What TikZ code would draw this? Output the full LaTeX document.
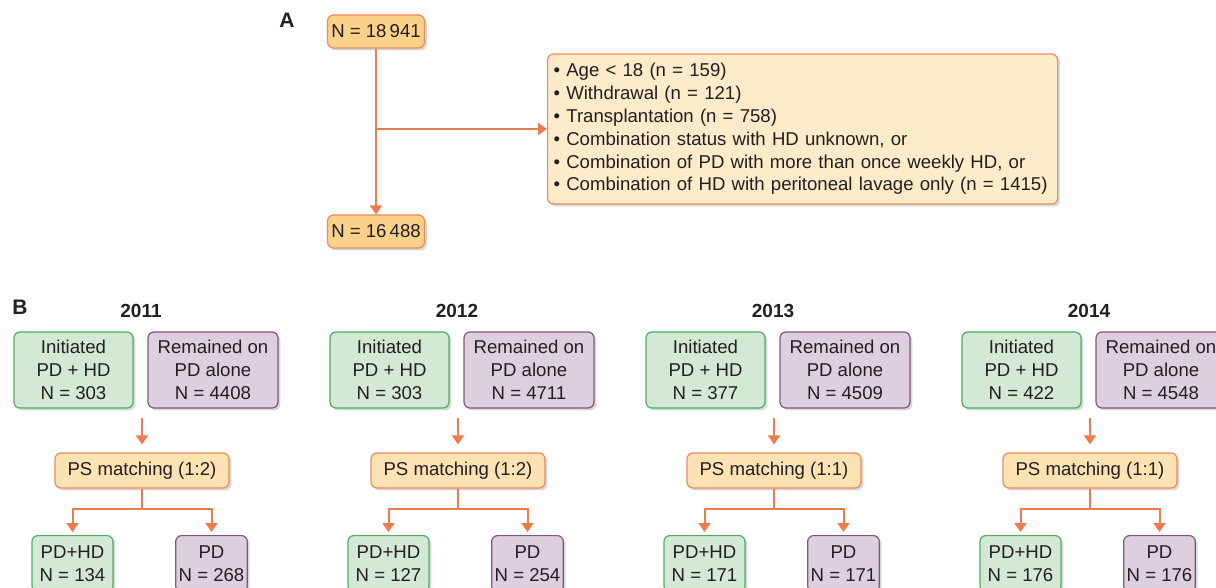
\documentclass[tikz,border=0pt]{standalone}
\usepackage{fontspec}
\setmainfont{Liberation Sans}
\usetikzlibrary{positioning, shadows, arrows.meta}

\definecolor{inkgray}{HTML}{231F20}
\definecolor{orangeline}{HTML}{F08A5D}
\definecolor{arrowcol}{HTML}{EE7B4D}
\definecolor{cohortfill}{HTML}{FCD28A}
\definecolor{exclfill}{HTML}{FDEBC9}
\definecolor{psfill}{HTML}{FDE2B4}
\definecolor{greenfill}{HTML}{D3E8D5}
\definecolor{greenline}{HTML}{4DAE62}
\definecolor{purplefill}{HTML}{DCD0DF}
\definecolor{purpleline}{HTML}{85557F}

\begin{document}
\begin{tikzpicture}[
x=0.5pt, y=-0.5pt,
font=\fontsize{9.3}{11.4}\selectfont,
text=inkgray,
box/.style={rectangle, draw, rounded corners=3pt, line width=0.6pt, align=center, inner sep=1.5pt,
  drop shadow={shadow xshift=1.2pt, shadow yshift=-1.2pt, opacity=0.25, fill=black!60}},
cohort/.style={box, fill=cohortfill, draw=orangeline, minimum width=48.5pt, minimum height=16.5pt},
exclusion/.style={box, fill=exclfill, draw=orangeline, text width=249pt, align=left, inner xsep=3pt, minimum height=75pt},
combo/.style={box, fill=greenfill, draw=greenline, minimum width=59.5pt, minimum height=38pt},
alone/.style={box, fill=purplefill, draw=purpleline, minimum width=65pt, minimum height=38pt},
psbox/.style={box, fill=psfill, draw=orangeline, minimum width=87pt, minimum height=17.5pt},
combosm/.style={box, fill=greenfill, draw=greenline, minimum width=40.5pt, minimum height=28pt, anchor=north},
alonesm/.style={box, fill=purplefill, draw=purpleline, minimum width=35.5pt, minimum height=28pt, anchor=north},
arrow/.style={-{Triangle[width=6pt,length=4.5pt]}, line width=1pt, draw=arrowcol},
link/.style={line width=1pt, draw=arrowcol},
panel/.style={font=\fontsize{10.5}{12}\selectfont\bfseries},
year/.style={font=\fontsize{9.5}{12}\selectfont\bfseries}
]
\useasboundingbox (0,0) rectangle (1216,588);

% --- Panel A : exclusions ---
\node[panel] (labA) at (287,20) {A};
\node[cohort] (start) at (376,31.5) {N = 18\,941};
\node[cohort] (final) at (376,231.5) {N = 16\,488};
\node[exclusion, anchor=west] (excl) at (547,129) {\textbullet{} Age < 18 (n = 159)\\
\textbullet{} Withdrawal (n = 121)\\
\textbullet{} Transplantation (n = 758)\\
\textbullet{} Combination status with HD unknown, or\\
\textbullet{} Combination of PD with more than once weekly HD, or\\
\textbullet{} Combination of HD with peritoneal lavage only (n = 1415)};
\draw[arrow] (start) -- (final);
\draw[arrow] (start |- excl.west) -- (excl.west);

% --- Panel B ---
\node[panel] (labB) at (20,307) {B};

% --- 2011 ---
\node[year] (y11) at (141,311) {2011};
\node[combo] (init11) at (73.5,370) {Initiated\\PD + HD\\N = 303};
\node[alone] (rem11) at (213,370) {Remained on\\PD alone\\N = 4408};
\node[psbox] (ps11) at (142,470.5) {PS matching (1:2)};
\node[combosm] (pdhd11) at (72.5,535) {PD+HD\\N = 134};
\node[alonesm] (pd11) at (211.5,535) {PD\\N = 268};
\draw[arrow, shorten <=4.5pt, shorten >=4pt] (init11.south -| ps11.north) -- (ps11.north);
\draw[link] (ps11.south) -- ++(0,20) coordinate (split11);
\draw[arrow, shorten >=1.5pt] (split11) -| (pdhd11.north);
\draw[arrow, shorten >=1.5pt] (split11) -| (pd11.north);

% --- 2012 ---
\node[year] (y12) at (457,311) {2012};
\node[combo] (init12) at (389.5,370) {Initiated\\PD + HD\\N = 303};
\node[alone] (rem12) at (529,370) {Remained on\\PD alone\\N = 4711};
\node[psbox] (ps12) at (458,470.5) {PS matching (1:2)};
\node[combosm] (pdhd12) at (388.5,535) {PD+HD\\N = 127};
\node[alonesm] (pd12) at (527.5,535) {PD\\N = 254};
\draw[arrow, shorten <=4.5pt, shorten >=4pt] (init12.south -| ps12.north) -- (ps12.north);
\draw[link] (ps12.south) -- ++(0,20) coordinate (split12);
\draw[arrow, shorten >=1.5pt] (split12) -| (pdhd12.north);
\draw[arrow, shorten >=1.5pt] (split12) -| (pd12.north);

% --- 2013 ---
\node[year] (y13) at (773,311) {2013};
\node[combo] (init13) at (705.5,370) {Initiated\\PD + HD\\N = 377};
\node[alone] (rem13) at (845,370) {Remained on\\PD alone\\N = 4509};
\node[psbox] (ps13) at (774,470.5) {PS matching (1:1)};
\node[combosm] (pdhd13) at (704.5,535) {PD+HD\\N = 171};
\node[alonesm] (pd13) at (843.5,535) {PD\\N = 171};
\draw[arrow, shorten <=4.5pt, shorten >=4pt] (init13.south -| ps13.north) -- (ps13.north);
\draw[link] (ps13.south) -- ++(0,20) coordinate (split13);
\draw[arrow, shorten >=1.5pt] (split13) -| (pdhd13.north);
\draw[arrow, shorten >=1.5pt] (split13) -| (pd13.north);

% --- 2014 ---
\node[year] (y14) at (1089,311) {2014};
\node[combo] (init14) at (1021.5,370) {Initiated\\PD + HD\\N = 422};
\node[alone] (rem14) at (1161,370) {Remained on\\PD alone\\N = 4548};
\node[psbox] (ps14) at (1090,470.5) {PS matching (1:1)};
\node[combosm] (pdhd14) at (1020.5,535) {PD+HD\\N = 176};
\node[alonesm] (pd14) at (1159.5,535) {PD\\N = 176};
\draw[arrow, shorten <=4.5pt, shorten >=4pt] (init14.south -| ps14.north) -- (ps14.north);
\draw[link] (ps14.south) -- ++(0,20) coordinate (split14);
\draw[arrow, shorten >=1.5pt] (split14) -| (pdhd14.north);
\draw[arrow, shorten >=1.5pt] (split14) -| (pd14.north);

\end{tikzpicture}
\end{document}
